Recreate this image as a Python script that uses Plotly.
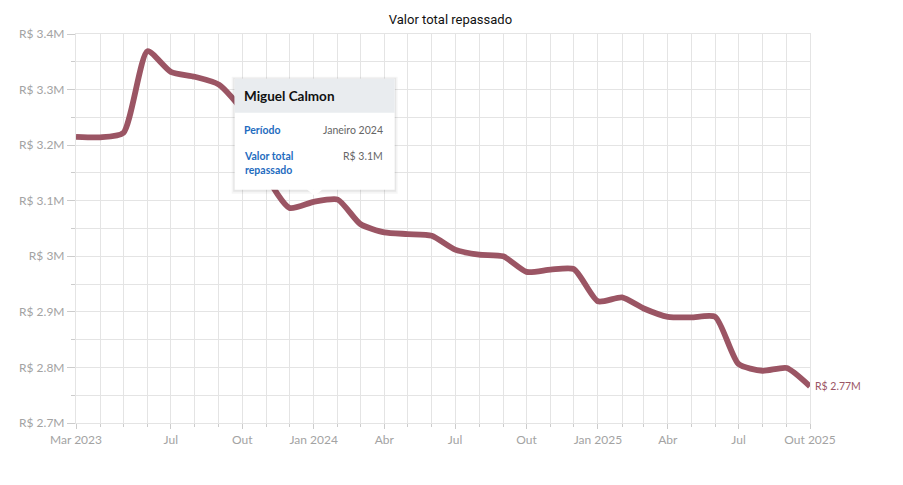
import plotly.graph_objects as go

# valor total repassado (milhões de R$), mensal mar/2023 - out/2025
meses = ["2023-03-01", "2023-04-01", "2023-05-01", "2023-06-01", "2023-07-01", "2023-08-01",
         "2023-09-01", "2023-10-01", "2023-11-01", "2023-12-01", "2024-01-01", "2024-02-01",
         "2024-03-01", "2024-04-01", "2024-05-01", "2024-06-01", "2024-07-01", "2024-08-01",
         "2024-09-01", "2024-10-01", "2024-11-01", "2024-12-01", "2025-01-01", "2025-02-01",
         "2025-03-01", "2025-04-01", "2025-05-01", "2025-06-01", "2025-07-01", "2025-08-01",
         "2025-09-01", "2025-10-01"]
valores = [3.215, 3.214, 3.222, 3.369, 3.332, 3.323,
           3.309, 3.262, 3.145, 3.087, 3.098, 3.102,
           3.058, 3.043, 3.040, 3.037, 3.012, 3.003,
           3.000, 2.972, 2.976, 2.977, 2.919, 2.926,
           2.906, 2.891, 2.890, 2.891, 2.806, 2.794,
           2.799, 2.766]

x_ticks = ["2023-03-01", "2023-07-01", "2023-10-01", "2024-01-01", "2024-04-01", "2024-07-01",
           "2024-10-01", "2025-01-01", "2025-04-01", "2025-07-01", "2025-10-01"]
x_labels = ["Mar 2023", "Jul", "Out", "Jan 2024", "Abr", "Jul", "Out", "Jan 2025", "Abr", "Jul", "Out 2025"]
y_ticks = [2.7, 2.8, 2.9, 3.0, 3.1, 3.2, 3.3, 3.4]
y_labels = ["R$ 2.7M", "R$ 2.8M", "R$ 2.9M", "R$ 3M", "R$ 3.1M", "R$ 3.2M", "R$ 3.3M", "R$ 3.4M"]

municipio = "Miguel Calmon"
i_sel = 10  # Janeiro 2024
periodo = "Janeiro 2024"

COR = "#9b5564"
GRADE = "#e4e4e4"
TXT = "#a3a3a3"
AZUL = "#1f6cc0"
FONTE = "Lato"

fig = go.Figure()
fig.add_trace(go.Scatter(x=meses, y=valores, mode="lines",
                         line=dict(color=COR, width=5.8, shape="spline", smoothing=0.6),
                         hoverinfo="skip"))

# rotulo final
fig.add_annotation(x=meses[-1], y=valores[-1], text=f"R$ {valores[-1]:.2f}M", showarrow=False,
                   xanchor="left", xshift=3, font=dict(family=FONTE, size=10.5, color=COR))

# tooltip fixo em Janeiro 2024
xa, ya = meses[i_sel], valores[i_sel]
def caixa(x0, x1, y0, y1, fill, line=None):
    fig.add_shape(type="rect", xref="x", yref="y", xsizemode="pixel", ysizemode="pixel",
                  xanchor=xa, yanchor=ya, x0=x0, x1=x1, y0=y0, y1=y1,
                  fillcolor=fill, line=dict(width=0) if line is None else line, layer="above")

caixa(-82, 84, 8, 125, "rgba(0,0,0,0.04)")
caixa(-80.5, 82.5, 10, 124, "rgba(0,0,0,0.06)")
caixa(-79, 81, 12, 123, "white")
caixa(-79, 81, 89, 123, "#e9ecef")
fig.add_shape(type="path", xref="x", yref="y", xsizemode="pixel", ysizemode="pixel",
              xanchor=xa, yanchor=ya, path="M -7 12.5 L 1 6 L 9 12.5 Z",
              fillcolor="white", line=dict(width=0), layer="above")

def texto(t, dx, dy, cor, tam, anchor="left", bold=False):
    if bold:
        t = "<b>" + t + "</b>"
    fig.add_annotation(x=xa, y=ya, xref="x", yref="y", text=t, showarrow=False,
                       xanchor=anchor, yanchor="middle", align=anchor, xshift=dx, yshift=dy,
                       font=dict(family=FONTE, size=tam, color=cor))

texto(municipio, -72, 106, "#111111", 13.5, bold=True)
texto("Período", -72, 72, AZUL, 10.5, bold=True)
texto(periodo, 71, 72, "#666666", 10.5, anchor="right")
texto("Valor total<br>repassado", -72, 39, AZUL, 10.5, bold=True)
texto(f"R$ {valores[i_sel]:.1f}M", 71, 46, "#666666", 10.5, anchor="right")

# a pagina tem margem de 8px no body
fig.update_layout(
    width=903, height=485,
    margin=dict(l=68, r=101, t=26, b=70),
    plot_bgcolor="white", paper_bgcolor="white",
    showlegend=False, hovermode=False,
    title=dict(text="Valor total repassado", x=0.49, xanchor="center", y=1 - 11 / 485,
               yanchor="middle", yref="container",
               font=dict(family="Roboto", size=13, color="#111111")),
)
fig.update_xaxes(type="date", range=[meses[0], meses[-1]],
                 tickvals=x_ticks, ticktext=x_labels,
                 showgrid=True, gridcolor=GRADE, gridwidth=1.2,
                 showline=True, linecolor=GRADE, linewidth=1.2, mirror=True,
                 ticks="outside", ticklen=5, tickcolor="#cccccc", tickwidth=1,
                 tickfont=dict(family=FONTE, size=12, color=TXT),
                 minor=dict(dtick="M1", tick0=meses[0], showgrid=True, gridcolor=GRADE, gridwidth=1.2,
                            ticks="outside", ticklen=3, tickcolor="#cccccc"),
                 zeroline=False)
fig.update_yaxes(range=[2.7, 3.4], tickvals=y_ticks, ticktext=y_labels,
                 showgrid=True, gridcolor=GRADE, gridwidth=1.2,
                 showline=True, linecolor=GRADE, linewidth=1.2, mirror=True,
                 ticks="outside", ticklen=8, tickcolor="#cccccc", tickwidth=1,
                 tickfont=dict(family=FONTE, size=12, color=TXT),
                 minor=dict(dtick=0.05, tick0=2.7, showgrid=True, gridcolor=GRADE, gridwidth=1.2,
                            ticks="outside", ticklen=4, tickcolor="#cccccc"),
                 zeroline=False, ticklabelstandoff=0)

fig.write_html("out.html")
